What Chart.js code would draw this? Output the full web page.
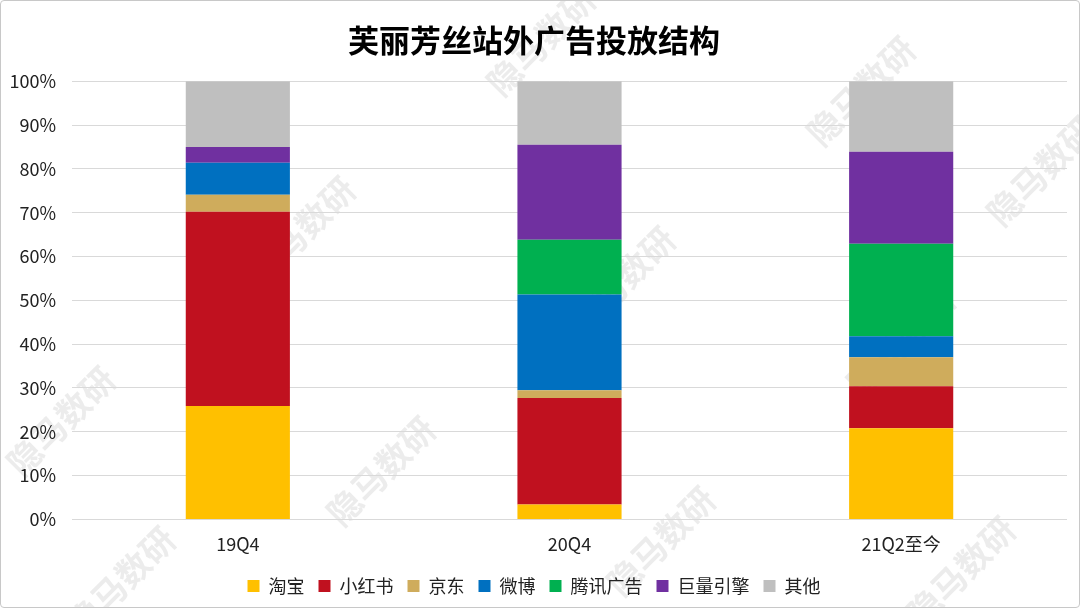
<!DOCTYPE html>
<html>
<head>
<meta charset="utf-8">
<script src="https://cdn.jsdelivr.net/npm/chart.js@4.4.0/dist/chart.umd.min.js"></script>
<style>
  html, body { margin: 0; padding: 0; background: #fff; }
  #wrap { width: 1078px; height: 606px; border: 1px solid #c8c8c8; border-radius: 4px; position: relative; }
</style>
</head>
<body>
<div id="wrap"><canvas id="chart"></canvas></div>
<script>
  // categorias e séries (percentual de cada canal)
  const quarters = ['19Q4', '20Q4', '21Q2至今'];
  const taobao = [25.9, 3.4, 20.8];
  const xiaohongshu = [44.3, 24.3, 9.6];
  const jingdong = [3.9, 1.8, 6.6];
  const weibo = [7.3, 21.8, 4.8];
  const tencent = [0, 12.5, 21.1];
  const oceanengine = [3.6, 21.7, 21.0];
  const others = [15.0, 14.5, 16.1];

  const seriesNames = ['淘宝', '小红书', '京东', '微博', '腾讯广告', '巨量引擎', '其他'];
  const seriesValues = [taobao, xiaohongshu, jingdong, weibo, tencent, oceanengine, others];
  const seriesColors = ['#FFC000', '#C0111F', '#CFAC5C', '#0070C0', '#00B050', '#7030A0', '#BFBFBF'];

  const font = "'Noto Sans CJK SC', 'Noto Sans', sans-serif";

  // marca d'água
  const watermark = {
    id: 'watermark',
    beforeDraw(chart) {
      const ctx = chart.ctx;
      ctx.save();
      ctx.fillStyle = 'rgba(200,200,200,0.35)';
      ctx.font = `bold 34px ${font}`;
      ctx.textAlign = 'center';
      ctx.textBaseline = 'middle';
      const spots = [[60, 420], [300, 230], [540, 40], [120, 580], [380, 470], [620, 280], [860, 90], [660, 540], [900, 340], [1040, 170], [960, 570]];
      spots.forEach(([x, y]) => {
        ctx.save();
        ctx.translate(x, y);
        ctx.rotate(-Math.PI / 4);
        ctx.fillText('隐马数研', 0, 0);
        ctx.restore();
      });
      ctx.restore();
    }
  };

  new Chart(document.getElementById('chart'), {
    type: 'bar',
    data: {
      labels: quarters,
      datasets: seriesNames.map((name, i) => ({
        label: name,
        data: seriesValues[i],
        backgroundColor: seriesColors[i],
        borderColor: seriesColors[i],
        borderWidth: 0,
        categoryPercentage: 1,
        barPercentage: 0.314
      }))
    },
    options: {
      responsive: true,
      maintainAspectRatio: false,
      animation: false,
      layout: { padding: { top: 13, right: 12, left: 0, bottom: 2 } },
      scales: {
        x: {
          stacked: true,
          grid: { display: false },
          border: { display: false },
          afterFit: scale => { scale.height += 2; },
          ticks: { color: '#222', font: { family: font, size: 18 }, padding: 6 }
        },
        y: {
          stacked: true,
          min: 0,
          max: 100,
          grid: { color: '#d9d9d9', drawTicks: false },
          border: { display: false },
          afterFit: scale => { scale.width = 71; },
          ticks: {
            stepSize: 10,
            padding: 16,
            color: '#222',
            font: { family: font, size: 18 },
            callback: value => value + '%'
          }
        }
      },
      plugins: {
        title: {
          display: true,
          text: '芙丽芳丝站外广告投放结构',
          color: '#000',
          font: { family: font, size: 31, weight: 'bold' },
          padding: { top: 8, bottom: 22 }
        },
        legend: {
          position: 'bottom',
          labels: {
            color: '#222',
            font: { family: font, size: 18 },
            boxWidth: 12,
            boxHeight: 12,
            padding: 14
          }
        },
        tooltip: { enabled: false }
      }
    },
    plugins: [watermark]
  });
</script>
</body>
</html>
